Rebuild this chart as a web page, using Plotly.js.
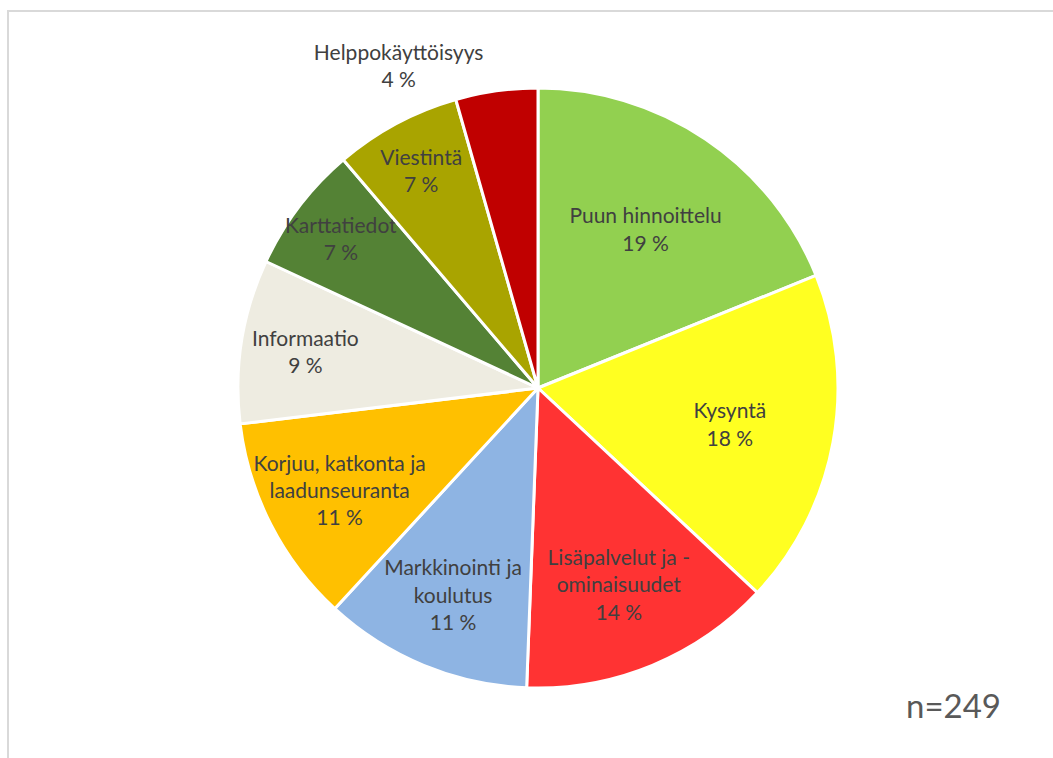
<!DOCTYPE html>
<html>
<head>
<meta charset="utf-8">
<script src="https://cdn.plot.ly/plotly-3.0.1.min.js"></script>
<style>
  html, body { margin: 0; padding: 0; overflow: hidden; background: #fff; }
  #chart { width: 1053px; height: 758px; position: absolute; left: 0; top: 0; }
  #frame { position: absolute; left: 7px; top: 10px; width: 1200px; height: 900px;
           border-left: 2px solid #d9d9d9; border-top: 2px solid #d9d9d9; pointer-events: none; }
</style>
</head>
<body>
<div id="chart"></div>
<div id="frame"></div>
<script>
const categories = [
  'Puun hinnoittelu',
  'Kysyntä',
  'Lisäpalvelut ja -<br>ominaisuudet',
  'Markkinointi ja<br>koulutus',
  'Korjuu, katkonta ja<br>laadunseuranta',
  'Informaatio',
  'Karttatiedot',
  'Viestintä',
  'Helppokäyttöisyys'
];
const counts = [47, 45, 34, 28, 28, 22, 17, 17, 11];
const colors = ['#92D050', '#FFFF21', '#FF3333', '#8EB4E3', '#FFC000', '#EEECE1', '#548235', '#A9A400', '#C00000'];
const positions = ['inside','inside','inside','inside','inside','inside','inside','inside','outside'];
const nTotal = 249;

const total = counts.reduce((a, b) => a + b, 0);
const labelsText = categories.map((c, i) => c + '<br>' + Math.round(counts[i] / total * 100) + ' %');

const W = 1053, H = 758;
const trace = {
  type: 'pie',
  values: counts,
  labels: categories,
  text: labelsText,
  textinfo: 'text',
  hoverinfo: 'label+percent',
  textposition: positions,
  insidetextorientation: 'horizontal',
  sort: false,
  direction: 'clockwise',
  rotation: 0,
  marker: { colors: colors, line: { color: '#ffffff', width: 3 } },
  textfont: { family: 'Lato, "Open Sans", sans-serif', size: 21, color: '#404040' },
  domain: { x: [238 / W, 838 / W], y: [(H - 688) / H, (H - 88) / H] },
  showlegend: false
};

const layout = {
  width: W, height: H,
  margin: { l: 0, r: 0, t: 0, b: 0 },
  paper_bgcolor: '#ffffff',
  uniformtext: { mode: 'show', minsize: 21 },
  annotations: [{
    text: 'n=' + nTotal,
    xref: 'paper', yref: 'paper',
    x: 953 / W, y: 1 - 705 / H,
    xanchor: 'center', yanchor: 'middle',
    showarrow: false,
    font: { family: 'Lato, "Open Sans", sans-serif', size: 33, color: '#595959' }
  }]
};

Plotly.newPlot('chart', [trace], layout, { displayModeBar: false, staticPlot: true });
</script>
</body>
</html>
